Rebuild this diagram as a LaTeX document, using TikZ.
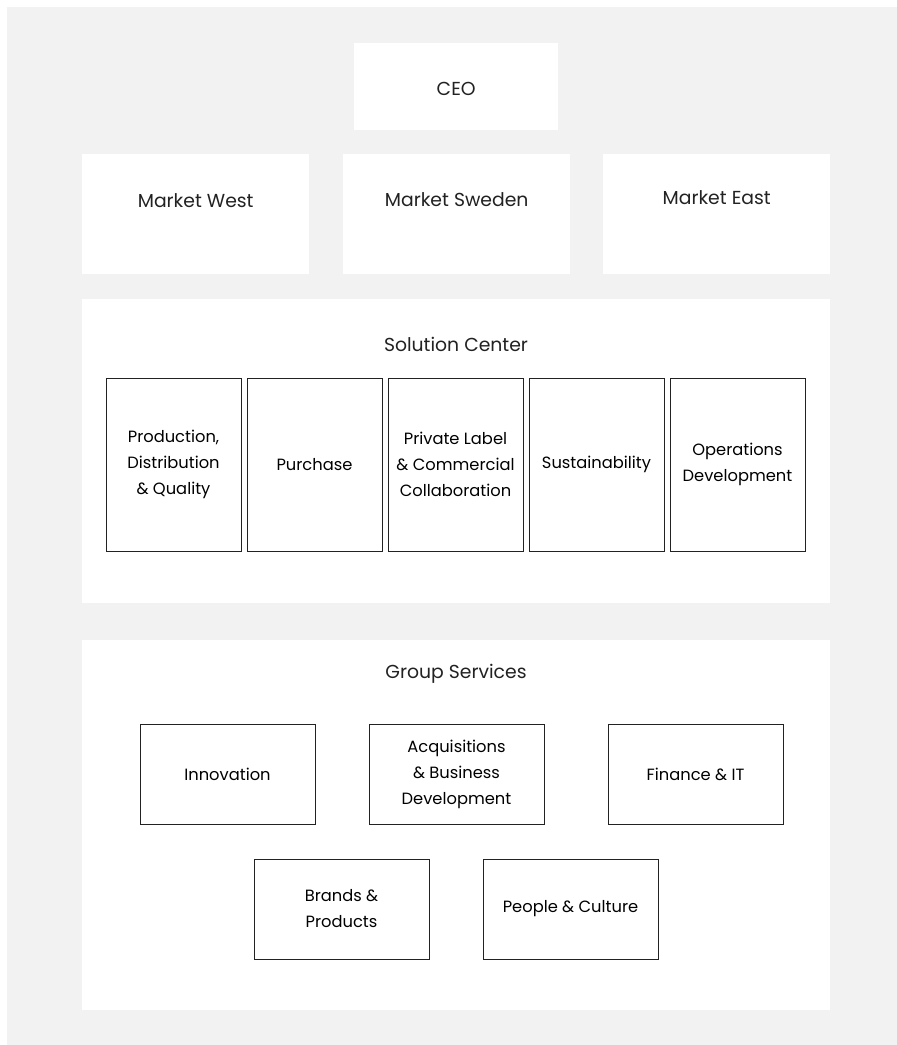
\documentclass[tikz,border=0pt]{standalone}
\usepackage{fontspec}
\setmainfont{Poppins}
\usetikzlibrary{positioning}
\definecolor{bggray}{HTML}{F2F2F2}
\definecolor{linegray}{HTML}{222222}

\begin{document}
\begin{tikzpicture}[x=1pt,y=-1pt,
                    panel/.style={fill=white,draw=none,anchor=north west,inner sep=0pt},
                    unitbox/.style={fill=white,draw=none,minimum width=227pt,minimum height=120pt,anchor=north west,inner sep=0pt},
                    subbox/.style={draw=linegray,line width=0.9pt,fill=white,minimum width=135pt,minimum height=173pt,inner sep=2pt,
                                   align=center,font=\fontsize{16.3}{26}\selectfont},
                    groupbox/.style={draw=linegray,line width=0.9pt,fill=white,minimum width=175pt,minimum height=100pt,inner sep=2pt,
                                   align=center,font=\fontsize{16.3}{26}\selectfont},
                    title/.style={font=\fontsize{18.8}{24}\selectfont,text=linegray,inner sep=0pt}]
\useasboundingbox (0,0) rectangle (897,1045);
\fill[bggray] (7,7) rectangle (897,1045);

% top level
\node[unitbox,minimum width=204pt,minimum height=87pt] (ceo) at (354,43) {};
\node[title] (ceot) at ([yshift=-2pt]ceo.center) {CEO};

% markets
\node[unitbox] (mwest) at (82,154) {};
\node[unitbox] (mswe) at (343,154) {};
\node[unitbox] (meast) at (603,154) {};
\node[title] (mwestt) at ([yshift=14pt]mwest.center) {Market West};
\node[title] (mswet) at ([yshift=15pt]mswe.center) {Market Sweden};
\node[title] (meastt) at ([yshift=17pt]meast.center) {Market East};

% solution center
\node[panel,minimum width=748pt,minimum height=304pt] (sc) at (82,299) {};
\node[title] (sct) at (456,344) {Solution Center};
\node[subbox] (pdq) at (173.5,464.5) {Production,\\Distribution\\\& Quality};
\node[subbox,right=5.1pt of pdq] (pur) {Purchase};
\node[subbox,right=5.1pt of pur] (plc) {Private Label\\\& Commercial\\Collaboration};
\node[subbox,right=5.1pt of plc] (sus) {Sustainability};
\node[subbox,right=5.1pt of sus] (opd) {Operations\\Development};

% group services
\node[panel,minimum width=748pt,minimum height=370pt] (gs) at (82,640) {};
\node[title] (gst) at (456,674) {Group Services};
\node[groupbox] (inn) at (227.5,774) {Innovation};
\node[groupbox,right=53.1pt of inn] (abd) {Acquisitions\\\& Business\\Development};
\node[groupbox,right=63.1pt of abd] (fit) {Finance \& IT};
\node[groupbox] (bp) at (341.5,909) {Brands \&\\Products};
\node[groupbox,right=53.1pt of bp] (pc) {People \& Culture};
\end{tikzpicture}
\end{document}
